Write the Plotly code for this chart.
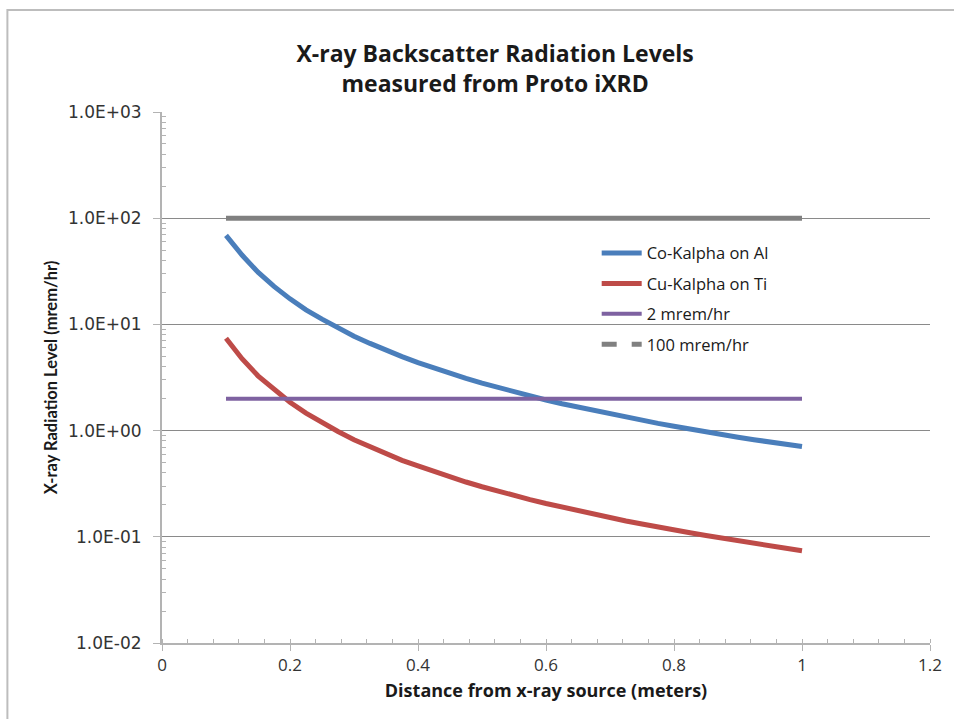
import plotly.graph_objects as go

# Distance from the x-ray source (m)
distance = [0.100, 0.125, 0.150, 0.175, 0.200, 0.225, 0.250, 0.275, 0.300, 0.325,
            0.350, 0.375, 0.400, 0.425, 0.450, 0.475, 0.500, 0.525, 0.550, 0.575,
            0.600, 0.625, 0.650, 0.675, 0.700, 0.725, 0.750, 0.775, 0.800, 0.825,
            0.850, 0.875, 0.900, 0.925, 0.950, 0.975, 1.000]

# Measured backscatter levels (mrem/hr)
co_on_al = [69.0, 45.0, 31.0, 22.8, 17.4, 13.7, 11.2, 9.25, 7.75, 6.62,
            5.70, 4.98, 4.37, 3.88, 3.45, 3.10, 2.80, 2.54, 2.31, 2.11,
            1.94, 1.79, 1.66, 1.54, 1.43, 1.33, 1.24, 1.17, 1.10, 1.03,
            0.97, 0.92, 0.865, 0.82, 0.775, 0.735, 0.71]
cu_on_ti = [7.4, 4.75, 3.28, 2.42, 1.85, 1.46, 1.18, 0.98, 0.82, 0.70,
            0.605, 0.525, 0.465, 0.41, 0.366, 0.328, 0.296, 0.268, 0.245, 0.224,
            0.206, 0.190, 0.175, 0.162, 0.151, 0.141, 0.132, 0.123, 0.116, 0.109,
            0.103, 0.097, 0.092, 0.0865, 0.082, 0.078, 0.074]

# Reference limits
limit_x = [0.1, 1.0]
limit_2 = [2, 2]
limit_100 = [100, 100]

y_tick_vals = [0.01, 0.1, 1, 10, 100, 1000]
y_tick_text = ["1.0E-02", "1.0E-01", "1.0E+00", "1.0E+01", "1.0E+02", "1.0E+03"]

BLUE = "#4A7EBB"
RED = "#BE4B48"
PURPLE = "#7E62A1"
GRAY = "#808080"
AXIS = "#B3B3B3"
GRID = "#8A8A8A"
WIDE_FONT = "'Open Sans', Lato, Arial, sans-serif"
NARROW_FONT = "Lato, 'Open Sans', Arial, sans-serif"

fig = go.Figure()
fig.add_trace(go.Scatter(x=distance, y=co_on_al, mode="lines", name="Co-Kalpha on Al",
                         line=dict(color=BLUE, width=5), legendgroup="a"))
fig.add_trace(go.Scatter(x=distance, y=cu_on_ti, mode="lines", name="Cu-Kalpha on Ti",
                         line=dict(color=RED, width=5), legendgroup="b"))
fig.add_trace(go.Scatter(x=limit_x, y=limit_2, mode="lines", name="2 mrem/hr",
                         line=dict(color=PURPLE, width=4), legendgroup="c"))
fig.add_trace(go.Scatter(x=limit_x, y=limit_100, mode="lines", name="100 mrem/hr",
                         line=dict(color=GRAY, width=5), legendgroup="d", showlegend=False))
# dashed legend key for the 100 mrem/hr limit
fig.add_trace(go.Scatter(x=[None], y=[None], mode="lines", name="100 mrem/hr",
                         line=dict(color=GRAY, width=5, dash="dash"), legendgroup="d"))

minor_y = [m * 10 ** e for e in range(-2, 3) for m in range(2, 10)]

fig.update_layout(
    width=954, height=719,
    margin=dict(l=162, r=22, t=112, b=76),
    paper_bgcolor="white", plot_bgcolor="white",
    title=dict(text="X-ray Backscatter Radiation Levels<br>measured from Proto iXRD",
               x=0.519, xref="container", xanchor="center",
               y=0.914, yref="container", yanchor="top",
               font=dict(family=WIDE_FONT, size=23, color="#1a1a1a", weight="bold")),
    showlegend=True,
    legend=dict(x=0.566, y=0.767, xanchor="left", yanchor="top",
                bgcolor="rgba(0,0,0,0)", tracegroupgap=6, itemwidth=40,
                font=dict(family=WIDE_FONT, size=16.5, color="#1a1a1a")),
    xaxis=dict(range=[0, 1.2], dtick=0.2, tick0=0,
               showline=True, linecolor=AXIS, linewidth=2,
               ticks="outside", ticklen=6, tickcolor=AXIS, tickwidth=1,
               showgrid=False, zeroline=False,
               minor=dict(dtick=0.04, ticks="inside", ticklen=4, tickcolor=AXIS, showgrid=False),
               tickfont=dict(family=WIDE_FONT, size=17, color="#333333"),
               title=dict(text="Distance from x-ray source (meters)", standoff=9,
                          font=dict(family=WIDE_FONT, size=18, color="#1a1a1a", weight="bold"))),
    yaxis=dict(type="log", range=[-2, 3],
               tickvals=y_tick_vals, ticktext=y_tick_text,
               showline=True, linecolor=AXIS, linewidth=2,
               ticks="outside", ticklen=7, tickcolor=AXIS, tickwidth=1,
               ticklabelstandoff=8,
               showgrid=True, gridcolor=GRID, gridwidth=1, zeroline=False,
               minor=dict(tickvals=minor_y, ticks="inside", ticklen=4, tickcolor=AXIS, showgrid=False),
               tickfont=dict(family="'DejaVu Sans', Verdana, sans-serif", size=17, color="#333333"),
               title=dict(text="X-ray Radiation Level (mrem/hr)", standoff=6,
                          font=dict(family=NARROW_FONT, size=16.5, color="#1a1a1a", weight="bold"))),
    shapes=[dict(type="rect", xref="paper", yref="paper",
                 x0=-0.2013, x1=1.2, y0=-0.3, y1=1.192,
                 line=dict(color="#BDBDBD", width=2), fillcolor="rgba(0,0,0,0)", layer="below")],
)

fig.write_html("out.html")
